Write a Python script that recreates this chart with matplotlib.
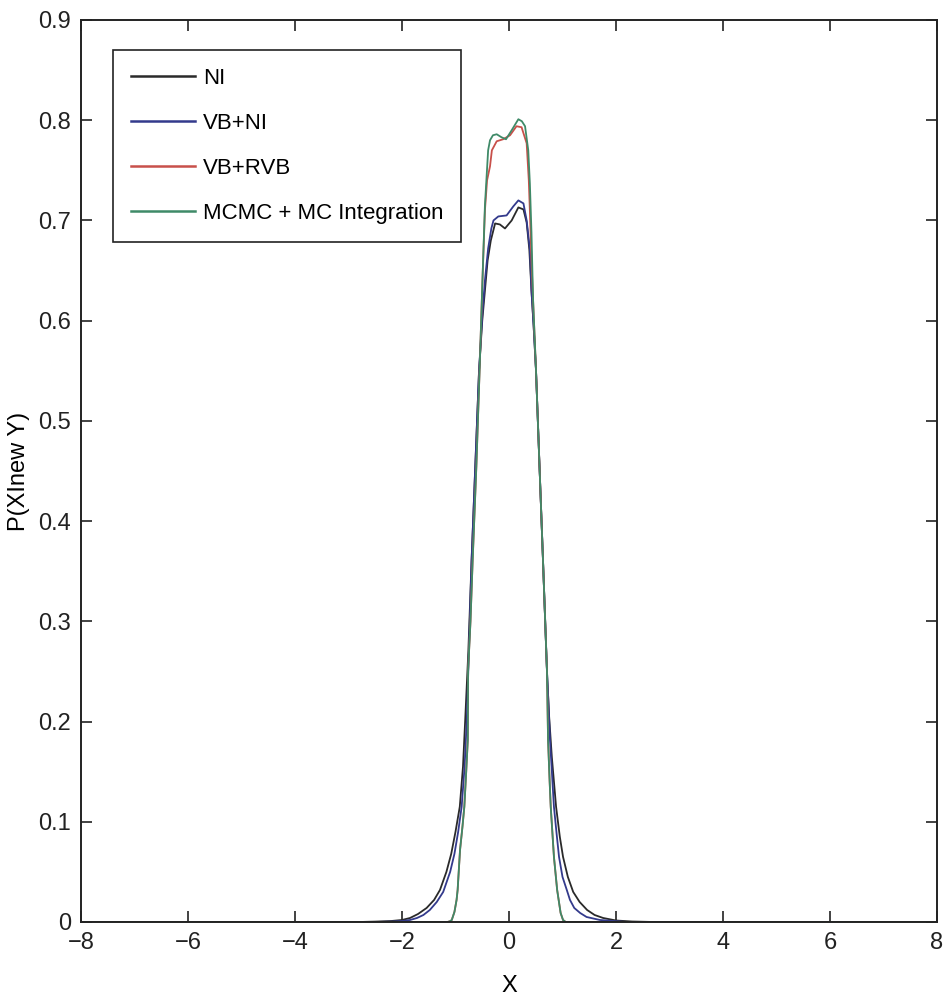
import matplotlib
matplotlib.use("Agg")
import matplotlib.pyplot as plt

plt.rcParams['font.family'] = ['Liberation Sans', 'DejaVu Sans']

# ---- data ----
x_ni = [-8, -2.8, -2.5, -2.2, -2.0, -1.85, -1.7, -1.54, -1.40, -1.29, -1.17, -1.08, -1.0,
        -0.92, -0.86, -0.82, -0.76, -0.70, -0.63, -0.56, -0.50,
        -0.45, -0.40, -0.34, -0.26, -0.17, -0.075, 0.05, 0.175, 0.27, 0.33, 0.38, 0.42,
        0.46, 0.505, 0.57, 0.636, 0.71, 0.75, 0.80, 0.88, 0.95, 1.01, 1.10, 1.20, 1.32,
        1.46, 1.60, 1.76, 2.0, 2.3, 2.7, 8]
y_ni = [0, 0, 0.0004, 0.001, 0.002, 0.004, 0.008, 0.014, 0.022, 0.032, 0.050, 0.068, 0.090,
        0.115, 0.155, 0.20, 0.27, 0.36, 0.455, 0.55, 0.60,
        0.63, 0.66, 0.68, 0.697, 0.696, 0.692, 0.700, 0.713, 0.711, 0.698, 0.671, 0.63,
        0.595, 0.55, 0.455, 0.36, 0.25, 0.205, 0.165, 0.115, 0.085, 0.065, 0.045, 0.030, 0.020,
        0.012, 0.007, 0.004, 0.0015, 0.0005, 0, 0]

x_vbni = [-8, -2.5, -2.2, -2.0, -1.85, -1.72, -1.60, -1.48, -1.35, -1.23, -1.10, -1.02, -0.95,
          -0.885, -0.83, -0.79, -0.75, -0.70, -0.63, -0.56, -0.50,
          -0.45, -0.39, -0.33, -0.29, -0.20, -0.045, 0.08, 0.175, 0.27, 0.33, 0.39, 0.42,
          0.46, 0.505, 0.57, 0.636, 0.71, 0.74, 0.766, 0.84, 0.89, 0.935, 1.0, 1.08, 1.14,
          1.22, 1.33, 1.45, 1.70, 2.2, 8]
y_vbni = [0, 0, 0.0004, 0.001, 0.002, 0.004, 0.007, 0.012, 0.020, 0.030, 0.050, 0.068, 0.090,
          0.115, 0.155, 0.20, 0.27, 0.36, 0.455, 0.55, 0.605,
          0.64, 0.672, 0.692, 0.700, 0.704, 0.705, 0.714, 0.720, 0.717, 0.700, 0.671, 0.63,
          0.595, 0.55, 0.455, 0.36, 0.25, 0.215, 0.182, 0.115, 0.088, 0.065, 0.045, 0.032, 0.022,
          0.014, 0.009, 0.005, 0.002, 0, 0]

x_vbrvb = [-8, -1.15, -1.10, -1.07, -1.02, -0.98, -0.96, -0.94, -0.915, -0.87, -0.835, -0.80,
           -0.77, -0.765, -0.72, -0.68, -0.61, -0.55,
           -0.49, -0.45, -0.41, -0.355, -0.32, -0.23, -0.11, 0.02, 0.14, 0.235, 0.33,
           0.37, 0.39, 0.42, 0.45, 0.505, 0.57, 0.636, 0.71, 0.73, 0.76, 0.78, 0.84, 0.90,
           0.965, 1.01, 1.06, 8]
y_vbrvb = [0, 0, 0.0008, 0.002, 0.010, 0.022, 0.032, 0.050, 0.072, 0.095, 0.115, 0.150,
           0.182, 0.25, 0.30, 0.36, 0.455, 0.55,
           0.65, 0.71, 0.74, 0.754, 0.770, 0.779, 0.781, 0.785, 0.794, 0.793, 0.777,
           0.74, 0.71, 0.66, 0.62, 0.55, 0.455, 0.36, 0.25, 0.182, 0.14, 0.115, 0.065, 0.032,
           0.009, 0.002, 0, 0]

x_mcmc = [-8, -1.15, -1.10, -1.07, -1.02, -0.98, -0.96, -0.94, -0.915, -0.87, -0.835, -0.80,
          -0.77, -0.765, -0.72, -0.68, -0.61, -0.55,
          -0.49, -0.45, -0.39, -0.355, -0.30, -0.23, -0.14, -0.056, 0.05, 0.175, 0.24,
          0.30, 0.36, 0.39, 0.42, 0.45, 0.505, 0.57, 0.636, 0.71, 0.73, 0.76, 0.78, 0.84,
          0.90, 0.965, 1.01, 1.06, 8]
y_mcmc = [0, 0, 0.0008, 0.002, 0.010, 0.022, 0.032, 0.050, 0.072, 0.095, 0.115, 0.150,
          0.182, 0.25, 0.30, 0.36, 0.455, 0.55,
          0.65, 0.715, 0.770, 0.780, 0.785, 0.786, 0.783, 0.781, 0.790, 0.801, 0.799,
          0.794, 0.770, 0.737, 0.688, 0.621, 0.55, 0.455, 0.36, 0.25, 0.182, 0.14, 0.115,
          0.065, 0.032, 0.009, 0.002, 0, 0]

labels = ['NI', 'VB+NI', 'VB+RVB', 'MCMC + MC Integration']
colors = ['#2a2a2a', '#333a8c', '#c8504a', '#3f8a68']

xticks = [-8, -6, -4, -2, 0, 2, 4, 6, 8]
yticks = [0, 0.1, 0.2, 0.3, 0.4, 0.5, 0.6, 0.7, 0.8, 0.9]
ytick_labels = ['0', '0.1', '0.2', '0.3', '0.4', '0.5', '0.6', '0.7', '0.8', '0.9']

fig = plt.figure(figsize=(9.45, 10.02), dpi=100)
ax = fig.add_axes([81 / 945, 80 / 1002, 856 / 945, 902 / 1002])

series = [(x_ni, y_ni), (x_vbni, y_vbni), (x_vbrvb, y_vbrvb), (x_mcmc, y_mcmc)]
for (xs, ys), lab, c in zip(series, labels, colors):
    ax.plot(xs, ys, color=c, lw=1.3, label=lab)

ax.set_xlim(-8, 8)
ax.set_ylim(0, 0.9)
ax.set_xticks(xticks)
ax.set_xticklabels([str(t).replace('-', '\u2212') for t in xticks])
ax.set_yticks(yticks)
ax.set_yticklabels(ytick_labels)
ax.tick_params(direction='in', length=8, width=1.2, top=True, right=True,
               labelsize=17, pad=7, colors='#222222')
for s in ax.spines.values():
    s.set_linewidth(1.4)
    s.set_color('#222222')

ax.set_xlabel('X', fontsize=17, labelpad=15)
ax.set_ylabel('P(XInew Y)', fontsize=17, labelpad=6)

leg = ax.legend(loc='upper left', bbox_to_anchor=(32 / 856, (922 - 50) / 902),
                borderaxespad=0, fontsize=16, frameon=True, fancybox=False,
                edgecolor='#222222', framealpha=1, handlelength=2.9,
                handletextpad=0.35, labelspacing=1.08, borderpad=0.8)
leg.get_frame().set_linewidth(1.2)
for line in leg.get_lines():
    line.set_linewidth(1.8)

fig.savefig('out.png', dpi=100)
